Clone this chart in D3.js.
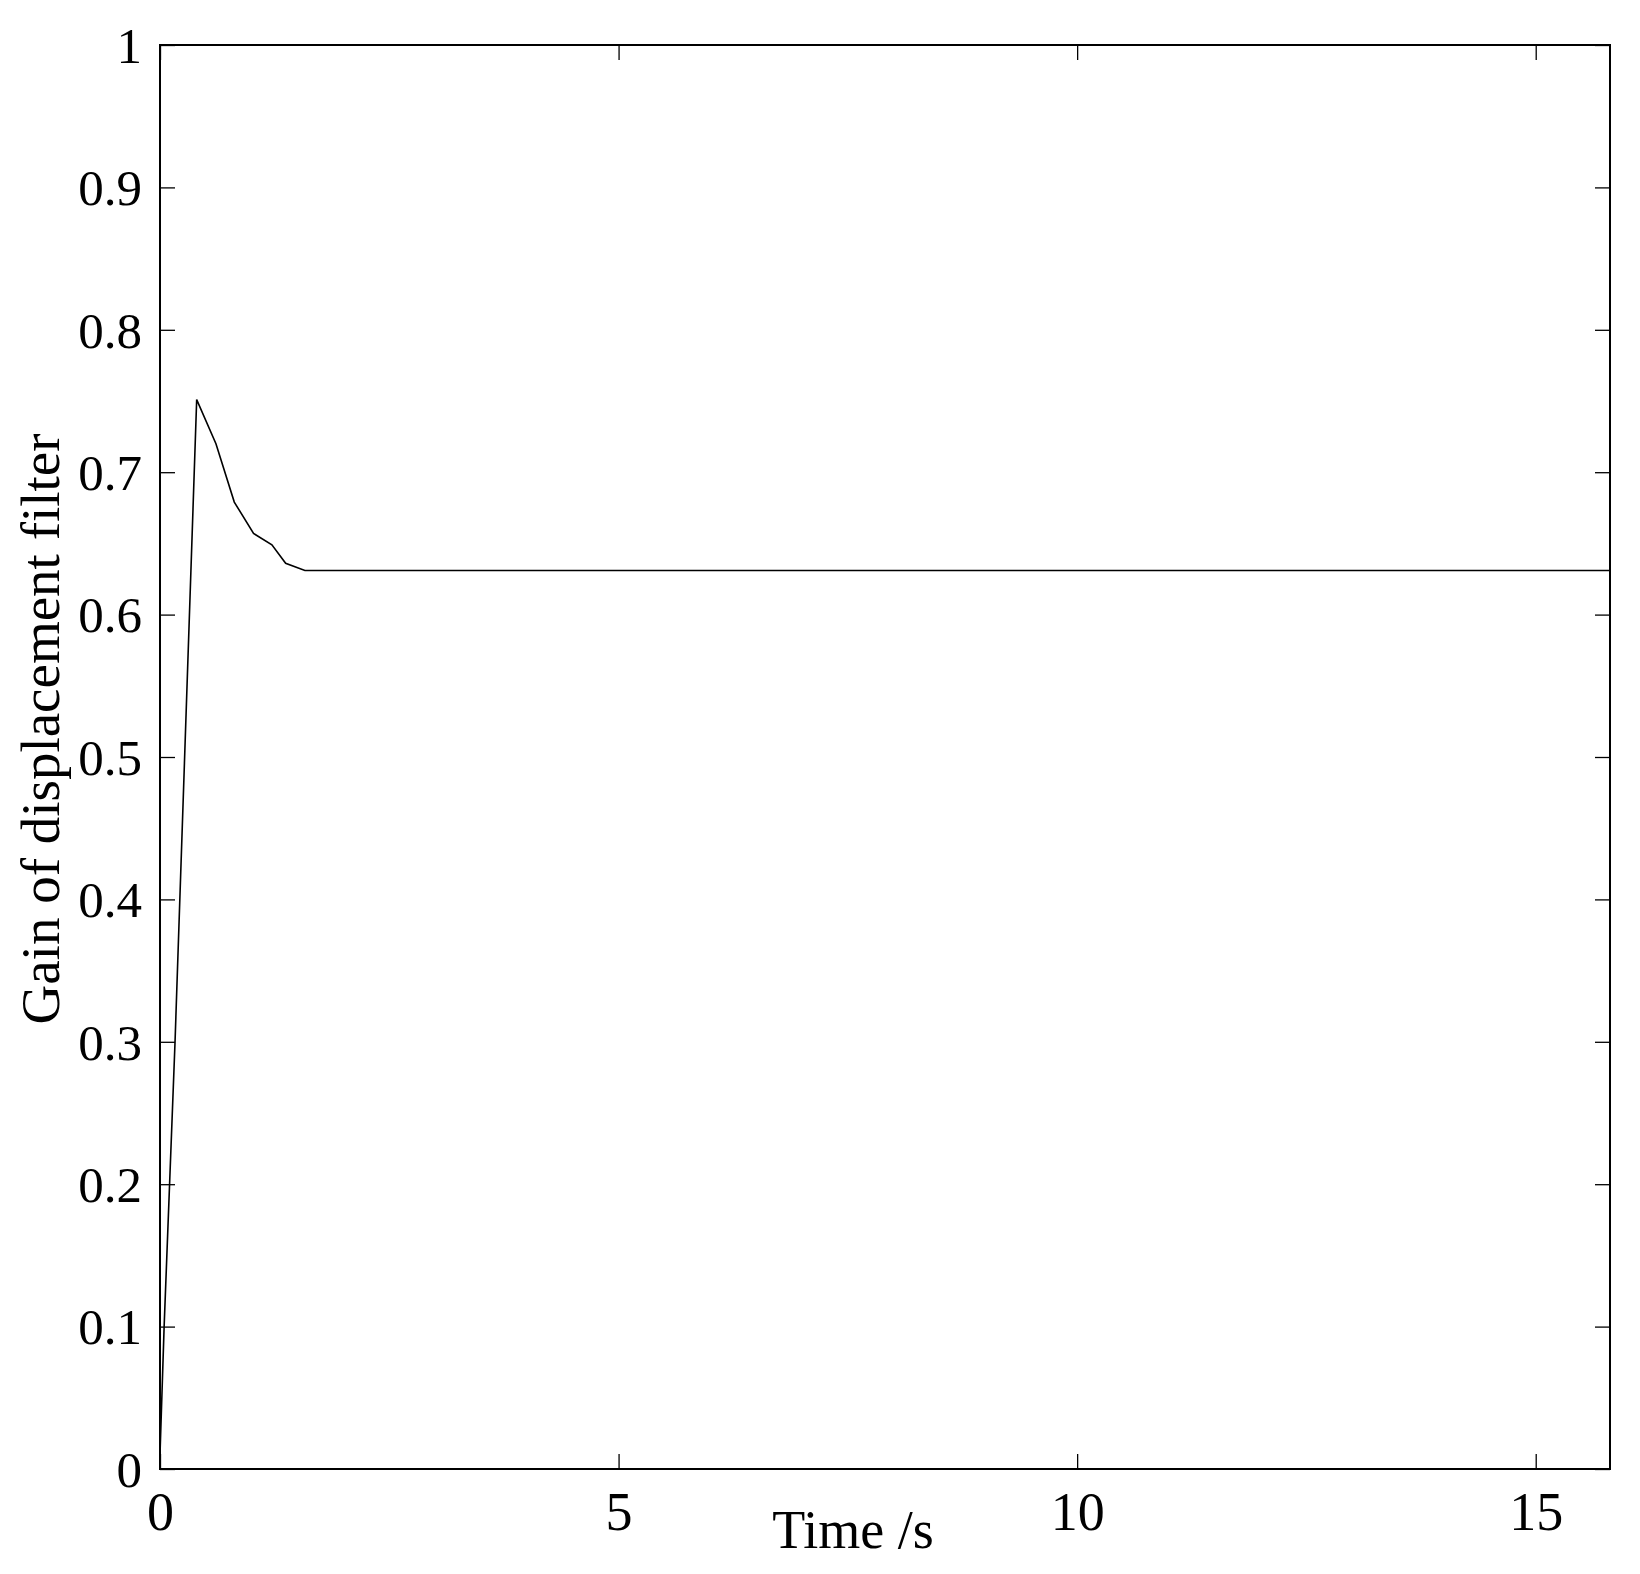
<!DOCTYPE html>
<html>
<head>
<meta charset="utf-8">
<script src="https://cdn.jsdelivr.net/npm/d3@7"></script>
<style>
  body { margin: 0; background: #fff; }
  svg { display: block; }
  .tick text { font-family: "Liberation Serif", "Times New Roman", serif; fill: #000; }
</style>
</head>
<body>
<div id="root"></div>
<script>
// time (s) and filter gain
var timeVals = [0, 0.045, 0.164, 0.40, 0.61, 0.81, 1.02, 1.22, 1.37, 1.58, 15.81];
var gainVals = [0.01, 0.10, 0.30, 0.751, 0.720, 0.679, 0.657, 0.649, 0.636, 0.631, 0.631];

var xTicks = [0, 5, 10, 15];
var yTicks = [0, 0.1, 0.2, 0.3, 0.4, 0.5, 0.6, 0.7, 0.8, 0.9, 1];
var yTickLabels = ["0", "0.1", "0.2", "0.3", "0.4", "0.5", "0.6", "0.7", "0.8", "0.9", "1"];

var xDomain = [0, 15.81];
var yDomain = [0, 1];

var W = 1640, H = 1574;
var margin = {top: 45, right: 30, bottom: 105, left: 160};
var width = W - margin.left - margin.right,
    height = H - margin.top - margin.bottom;

var svg = d3.select("#root").append("svg")
    .attr("width", W)
    .attr("height", H)
  .append("g")
    .attr("transform", "translate(" + margin.left + "," + margin.top + ")");

var x = d3.scaleLinear().domain(xDomain).range([0, width]);
var y = d3.scaleLinear().domain(yDomain).range([height, 0]);

// axes, ticks pointing inward on all four sides
var xAxis = svg.append("g")
    .attr("transform", "translate(0," + height + ")")
    .call(d3.axisBottom(x).tickValues(xTicks).tickFormat(d3.format("d"))
      .tickSizeInner(-15).tickSizeOuter(0).tickPadding(23));
xAxis.selectAll("text").style("font-size", "54px");

var yAxis = svg.append("g")
    .call(d3.axisLeft(y).tickValues(yTicks).tickFormat(function(d, i) { return yTickLabels[i]; })
      .tickSizeInner(-15).tickSizeOuter(0).tickPadding(18));
yAxis.selectAll("text").style("font-size", "51px").attr("dy", "0.34em");

svg.append("g")
    .call(d3.axisTop(x).tickValues(xTicks).tickFormat("").tickSizeInner(-15).tickSizeOuter(0));
svg.append("g")
    .attr("transform", "translate(" + width + ",0)")
    .call(d3.axisRight(y).tickValues(yTicks).tickFormat("").tickSizeInner(-15).tickSizeOuter(0));

svg.selectAll(".domain").remove();
svg.selectAll(".tick line").attr("stroke", "#000").attr("stroke-width", 1.3);

// box
svg.append("rect")
    .attr("width", width)
    .attr("height", height)
    .attr("fill", "none")
    .attr("stroke", "#000")
    .attr("stroke-width", 2);

// the curve
var line = d3.line()
    .x(function(d, i) { return x(timeVals[i]); })
    .y(function(d) { return y(d); });

svg.append("path")
    .datum(gainVals)
    .attr("fill", "none")
    .attr("stroke", "#000")
    .attr("stroke-width", 1.6)
    .attr("d", line);

// axis titles
svg.append("text")
    .attr("x", 693)
    .attr("y", height + 79)
    .attr("text-anchor", "middle")
    .style("font-family", "'Liberation Serif', 'Times New Roman', serif")
    .style("font-size", "54px")
    .text("Time /s");

svg.append("text")
    .attr("transform", "translate(" + (59 - margin.left) + "," + (729 - margin.top) + ") rotate(-90)")
    .attr("text-anchor", "middle")
    .style("font-family", "'Liberation Serif', 'Times New Roman', serif")
    .style("font-size", "55px")
    .text("Gain of displacement filter");
</script>
</body>
</html>
